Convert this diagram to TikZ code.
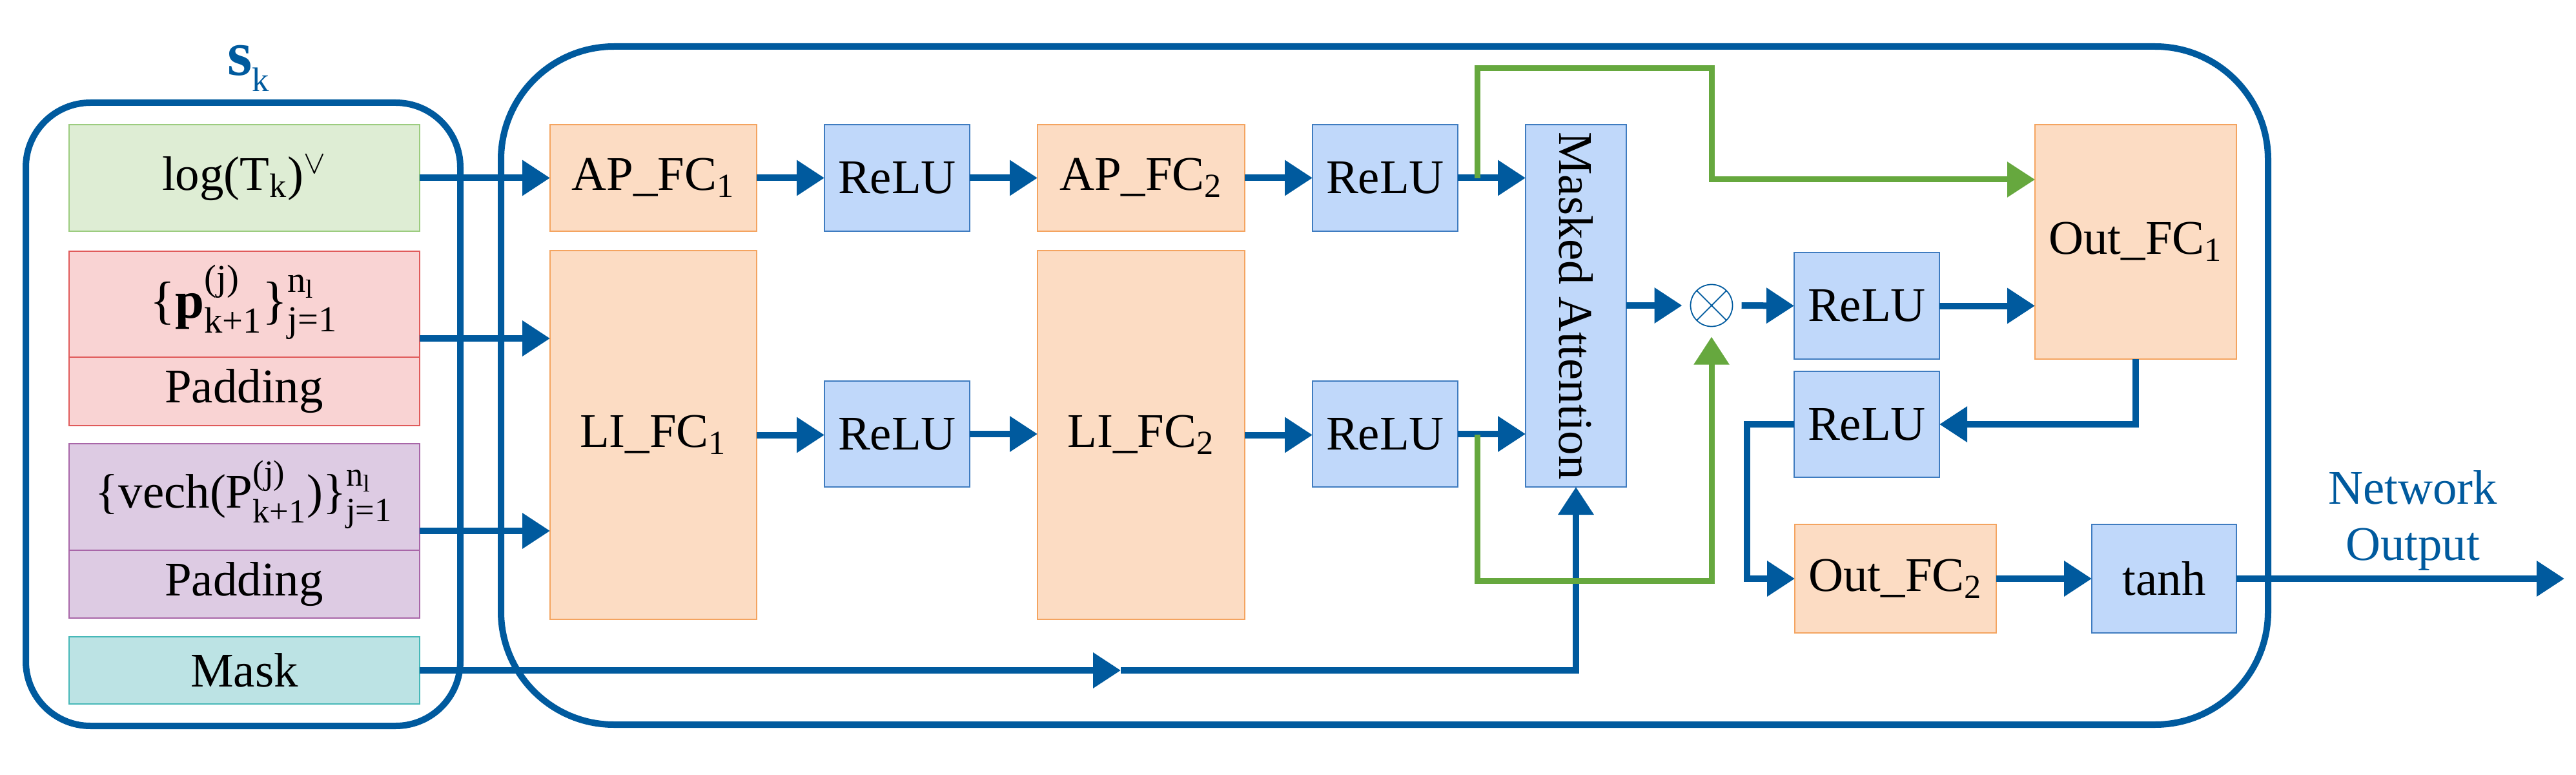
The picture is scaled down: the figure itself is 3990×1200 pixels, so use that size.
\documentclass[tikz,border=0pt]{standalone}
\usepackage{fontspec}
\usepackage{amsmath}
\setmainfont{Liberation Serif}
\usetikzlibrary{arrows.meta,calc}
\definecolor{nblue}{HTML}{005A9E}
\definecolor{ngreen}{HTML}{66A83E}
\definecolor{orfill}{HTML}{FCDCC3}
\definecolor{ordraw}{HTML}{F4A460}
\definecolor{blfill}{HTML}{C0D8FA}
\definecolor{bldraw}{HTML}{3F7CC0}
\definecolor{gnfill}{HTML}{DEEDD4}
\definecolor{gndraw}{HTML}{9CCC7F}
\definecolor{pkfill}{HTML}{F9D3D3}
\definecolor{pkdraw}{HTML}{E05A5A}
\definecolor{pufill}{HTML}{DDCBE3}
\definecolor{pudraw}{HTML}{A866A8}
\definecolor{tlfill}{HTML}{BCE3E4}
\definecolor{tldraw}{HTML}{47B8B8}
\newcommand\bx[7]{\node[#6,minimum width={(#4-#2)*0.1mm},minimum height={(#5-#3)*0.1mm}] (#1) at ({(#2+#4)/2},{(#3+#5)/2}) {#7};}
\tikzset{
  box/.style={draw, line width=0.6pt, inner sep=0pt, outer sep=0pt},
  orb/.style={box, fill=orfill, draw=ordraw},
  blb/.style={box, fill=blfill, draw=bldraw},
  gnb/.style={box, fill=gnfill, draw=gndraw},
  pkb/.style={box, fill=pkfill, draw=pkdraw},
  pub/.style={box, fill=pufill, draw=pudraw},
  tlb/.style={box, fill=tlfill, draw=tldraw},
  cont/.style={box, draw=nblue, line width=1mm},
  flow/.style={line width=1mm, draw=nblue, -{Triangle[length=4.3mm,width=5.3mm]}},
  gflow/.style={line width=0.9mm, draw=ngreen, -{Triangle[length=4.3mm,width=5.3mm]}},
}
\begin{document}
\begin{tikzpicture}[x=0.1mm,y=-0.1mm,font=\fontsize{21.3}{25}\selectfont]
\useasboundingbox (0,0) rectangle (3990,1200);
% containers
\bx{left}{40}{159}{713}{1124}{cont,rounded corners=10mm}{}
\bx{main}{776}{72}{3513}{1122}{cont,rounded corners=17.5mm}{}
\node[text=nblue] (sk) at (385,106) {\fontsize{28}{32}\selectfont\textbf{s}\raisebox{-7pt}{\fontsize{15}{17}\selectfont k}};
% inputs
\bx{logb}{107}{193}{650}{358}{gnb}{log(T\textsubscript{k})$^{\vee}$}
\bx{pb}{107}{389}{650}{659}{pkb}{}
\draw[pkdraw,line width=0.6pt] (pb.west |- 0,553) -- (pb.east |- 0,553);
\node (ptxt) at (378,468) {\fontsize{23}{27}\selectfont$\text{\{}\textbf{p}^{\text{(j)}}_{\text{k+1}}\text{\}}^{\text{n}_{\text{l}}}_{\text{j=1}}$};
\node (ppad) at (378,606) {Padding};
\bx{Pb}{107}{687}{650}{957}{pub}{}
\draw[pudraw,line width=0.6pt] (Pb.west |- 0,852) -- (Pb.east |- 0,852);
\node (Ptxt) at (378,766) {$\text{\{vech(P}^{\text{(j)}}_{\text{k+1}}\text{)\}}^{\text{n}_{\text{l}}}_{\text{j=1}}$};
\node (Ppad) at (378,905) {Padding};
\bx{mask}{107}{986}{650}{1090}{tlb}{Mask}
% AP row
\bx{ap1}{852}{193}{1172}{358}{orb}{AP\_FC\textsubscript{1}}
\bx{r1a}{1277}{193}{1502}{358}{blb}{ReLU}
\bx{ap2}{1607}{193}{1928}{358}{orb}{AP\_FC\textsubscript{2}}
\bx{r2a}{2033}{193}{2258}{358}{blb}{ReLU}
% LI row
\bx{li1}{852}{388}{1172}{959}{orb}{LI\_FC\textsubscript{1}}
\bx{r1l}{1277}{590}{1502}{754}{blb}{ReLU}
\bx{li2}{1607}{388}{1928}{959}{orb}{LI\_FC\textsubscript{2}}
\bx{r2l}{2033}{590}{2258}{754}{blb}{ReLU}
% attention
\bx{attn}{2363}{193}{2519}{754}{blb}{}
\node[rotate=-90] (attntxt) at (attn.center) {Masked Attention};
% otimes
\node[circle, draw=nblue, line width=0.5pt, minimum size=6.5mm, inner sep=0pt, outer sep=0pt] (ot) at (2651,473) {};
\draw[nblue, line width=0.5pt] (ot.north west) -- (ot.south east) (ot.north east) -- (ot.south west);
% right part
\bx{r3}{2779}{391}{3004}{556}{blb}{ReLU}
\bx{r4}{2779}{575}{3004}{739}{blb}{ReLU}
\bx{out1}{3152}{193}{3464}{556}{orb}{Out\_FC\textsubscript{1}}
\bx{out2}{2780}{812}{3092}{980}{orb}{Out\_FC\textsubscript{2}}
\bx{tanh}{3240}{812}{3464}{980}{blb}{tanh}
\node[text=nblue, align=center] (nout) at (3737,806) {Network\\Output};
% connectors
\draw[flow] (logb.east) -- (ap1.west);
\draw[flow] (pb.east) -- (pb.east -| li1.west);
\draw[flow] (Pb.east) -- (Pb.east -| li1.west);
\coordinate (mm) at (1736,1038);
\draw[flow] (mask.east) -- (mm);
\draw[flow] (mm) -- (mm -| attn.south) -- (attn.south);
\draw[flow] (ap1.east) -- (r1a.west);
\draw[flow] (r1a.east) -- (ap2.west);
\draw[flow] (ap2.east) -- (r2a.west);
\draw[flow] (r2a.east) -- (r2a.east -| attn.west);
\draw[flow] (li1.east) -- (li1.east -| r1l.west);
\draw[flow] (r1l.east) -- (r1l.east -| li2.west);
\draw[flow] (li2.east) -- (li2.east -| r2l.west);
\draw[flow] (r2l.east) -- (r2l.east -| attn.west);
\draw[flow, shorten >=1.3mm] (attn.east |- ot.west) -- (ot.west);
\draw[flow, shorten <=1.4mm] (ot.east) -- (r3.west);
\draw[flow] (r3.east) -- (r3.east -| out1.west);
\draw[flow] (out1.south) -- (out1.south |- r4.east) -- (r4.east);
\draw[flow] (r4.west) -- ++(-73,0) |- (out2.west);
\draw[flow] (out2.east) -- (tanh.west);
\coordinate (netout) at (3972,896);
\draw[flow] (tanh.east) -- (netout);
% green skip connections
\coordinate (ga) at (2288,276);
\coordinate (gb) at (2288,673);
\draw[gflow] (ga) -- (2288,106) -- (2651,106) -- (2651,278) -- (2651,278 -| out1.west);
\draw[gflow, shorten >=1.6mm] (gb) -- (2288,899) -| (ot.south);
\end{tikzpicture}
\end{document}
